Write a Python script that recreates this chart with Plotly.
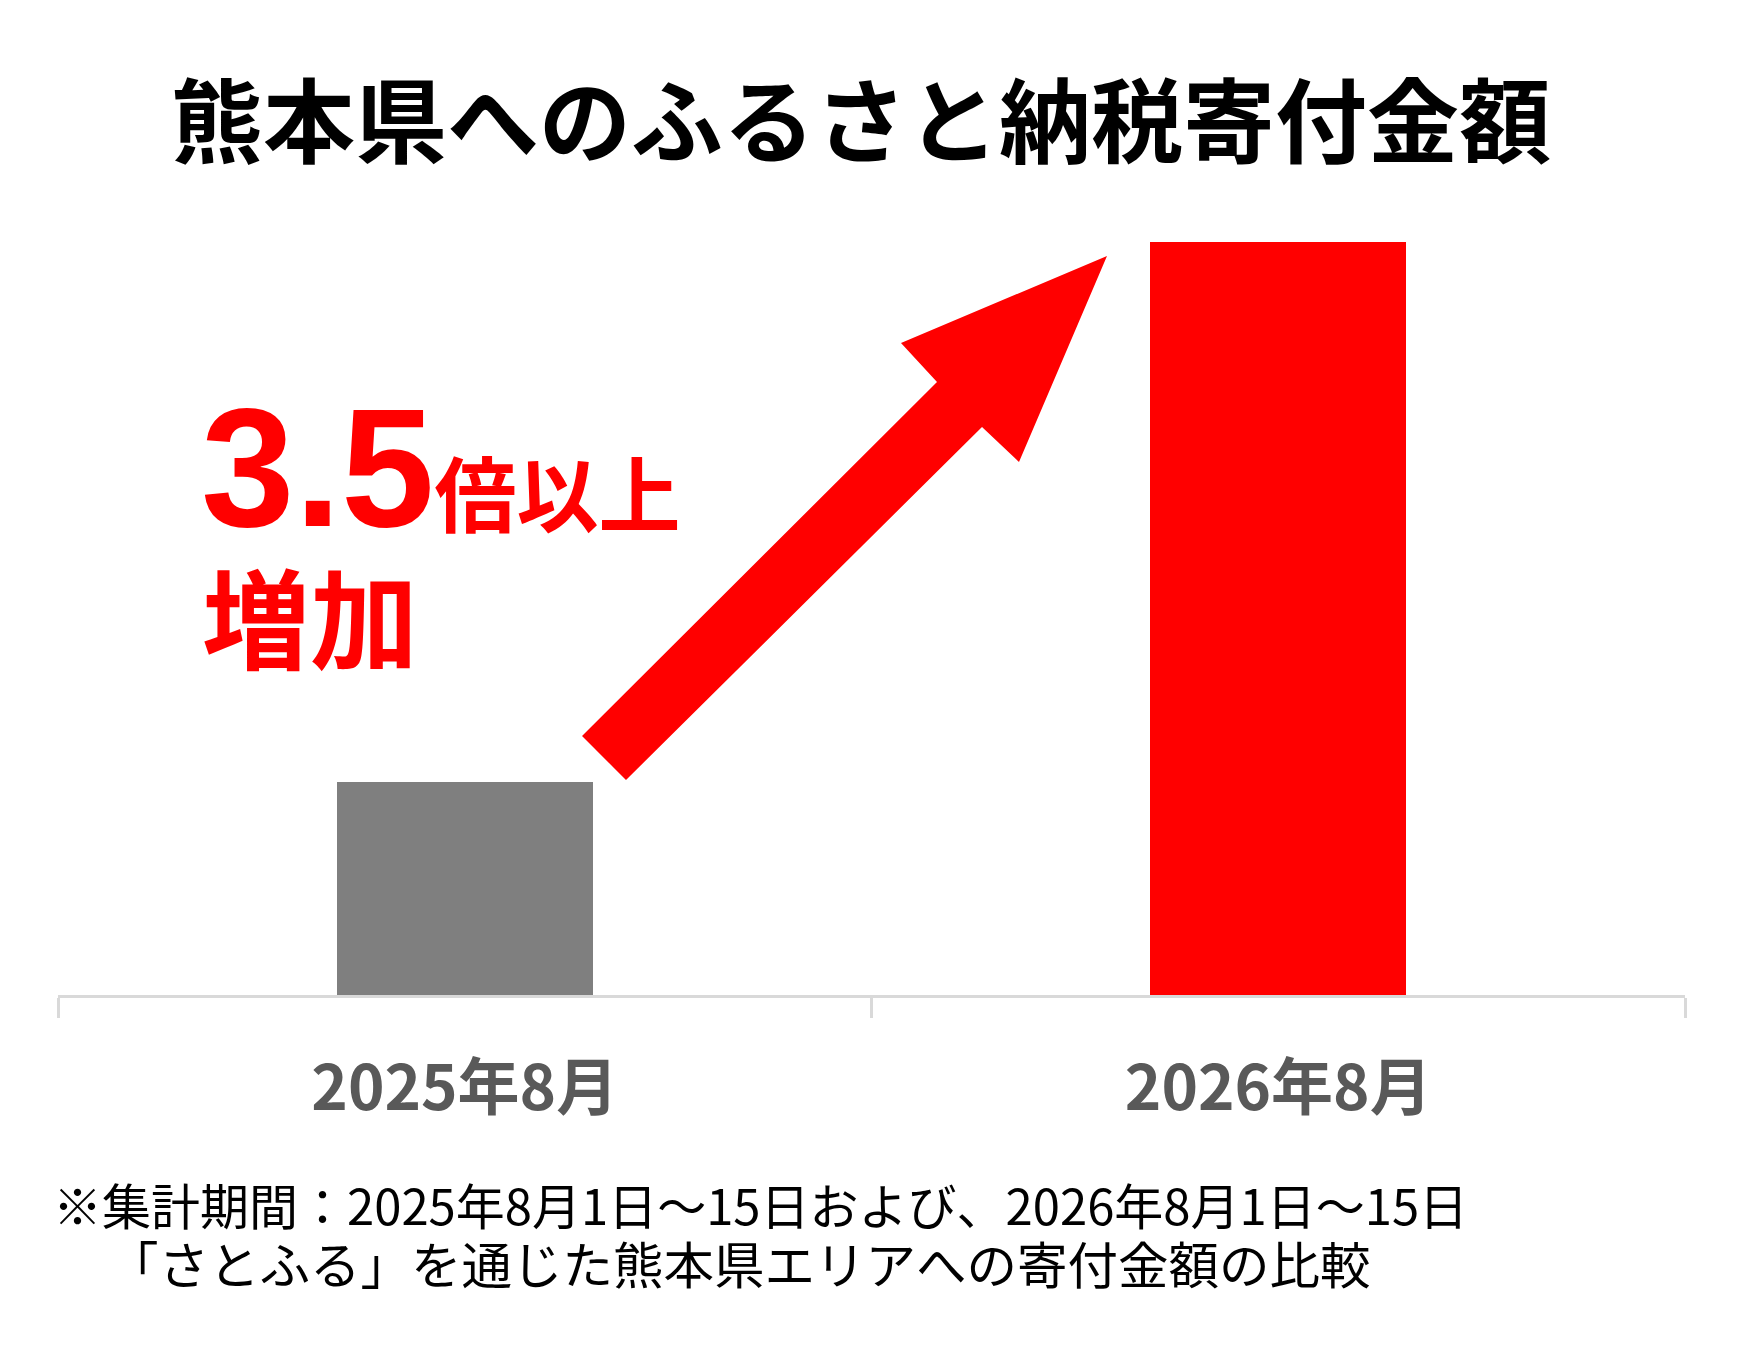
import plotly.graph_objects as go

# ---- data ----
categories = ["2025年8月", "2026年8月"]
values = [100, 354]          # relative donation amounts (2026 is ~3.5x 2025)
bar_colors = ["#7f7f7f", "#ff0000"]

title_text = "熊本県へのふるさと納税寄付金額"
ratio_text = "3.5"
ratio_suffix = "倍以上"
increase_text = "増加"
note_line1 = "※集計期間：2025年8月1日〜15日および、2026年8月1日〜15日"
note_line2 = "「さとふる」を通じた熊本県エリアへの寄付金額の比較"

# ---- layout geometry (pixels) ----
W, H = 1743, 1348
OFF = 8                       # page body margin
AX_L, AX_R, AX_Y, PLOT_TOP = 58, 1685, 995, 200   # page pixel positions
L = AX_L - OFF
R = W - (AX_R - OFF)
T = PLOT_TOP - OFF
B = H - (AX_Y - OFF)
PW = W - L - R
PH = H - T - B
JP = "Noto Sans CJK JP"


def px(x, y):
    """page pixel position -> paper coords"""
    return (x - OFF - L) / PW, (H - B - (y - OFF)) / PH


fig = go.Figure()
fig.add_trace(go.Bar(
    x=categories, y=values,
    marker=dict(color=bar_colors, line=dict(width=0)),
    width=0.315, hoverinfo="skip",
))

# arrow (decoration)
arrow_pts = [(582, 736), (937, 382), (901, 343), (1107, 256),
             (1019, 462), (982, 427), (626, 780)]
path = ""
for i, (ax, ay) in enumerate(arrow_pts):
    xx, yy = px(ax, ay)
    path += ("M" if i == 0 else "L") + f"{xx:.5f},{yy:.5f} "
path += "Z"
fig.add_shape(type="path", path=path, xref="paper", yref="paper",
              fillcolor="#ff0000", line=dict(width=0), layer="above")

ax_, ay_ = px(199, 468)
fig.add_annotation(
    x=ax_, y=ay_, xref="paper", yref="paper", xanchor="left", yanchor="middle",
    showarrow=False,
    text=(f"<span style='font-family:Liberation Sans;font-size:168px;font-weight:bold'>{ratio_text}</span>"
          f"<span style='font-family:{JP};font-size:82px;font-weight:bold'>{ratio_suffix}</span>"),
    font=dict(color="#ff0000", family=JP, size=82),
)
bx, by = px(200, 614)
fig.add_annotation(
    x=bx, y=by, xref="paper", yref="paper", xanchor="left", yanchor="middle",
    showarrow=False, text=f"<b>{increase_text}</b>",
    font=dict(color="#000000" if False else "#ff0000", family=JP, size=108),
)
n1x, n1y = px(51, 1203)
fig.add_annotation(
    x=n1x, y=n1y, xref="paper", yref="paper", xanchor="left", yanchor="middle",
    showarrow=False, align="left", text=note_line1,
    font=dict(color="#000000", family=JP, size=49),
)
n2x, n2y = px(106, 1262)
fig.add_annotation(
    x=n2x, y=n2y, xref="paper", yref="paper", xanchor="left", yanchor="middle",
    showarrow=False, align="left", text=note_line2,
    font=dict(color="#000000", family=JP, size=50.5),
)

fig.update_layout(
    width=W, height=H,
    margin=dict(l=L, r=R, t=T, b=B),
    paper_bgcolor="white", plot_bgcolor="white",
    showlegend=False,
    title=dict(text=f"<b>{title_text}</b>", x=(861 - OFF) / W, xanchor="center",
               y=1 - (124 - OFF) / H, yanchor="middle", yref="container",
               font=dict(family=JP, size=92, color="#000000")),
    bargap=0,
)
fig.update_xaxes(
    type="category", range=[-0.5, 1.5],
    showline=True, linecolor="#d9d9d9", linewidth=2.5,
    ticks="outside", ticklen=20, tickwidth=2.5, tickcolor="#d9d9d9",
    tickson="boundaries", showgrid=False, zeroline=False,
    tickfont=dict(family=JP, size=62, color="#595959", weight="bold"),
    ticklabelstandoff=38,
)
fig.update_yaxes(range=[0, PH * values[1] / (AX_Y - 242)], visible=False,
                 showgrid=False, zeroline=False)

fig.write_html("out.html")
